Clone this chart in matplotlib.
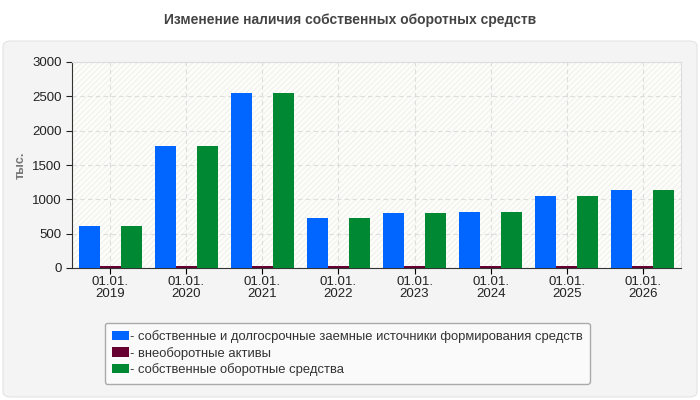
import matplotlib.pyplot as plt
import numpy as np
from matplotlib.patches import FancyBboxPatch, Rectangle

plt.rcParams['font.family'] = ['Liberation Sans', 'DejaVu Sans']

years = ["2019", "2020", "2021", "2022", "2023", "2024", "2025", "2026"]
labels = [f"01.01.\n{y}" for y in years]
own_and_longterm = [615, 1780, 2555, 735, 805, 820, 1053, 1140]
noncurrent_assets = [22, 22, 22, 22, 22, 22, 22, 22]
working_capital = [615, 1780, 2555, 735, 805, 820, 1053, 1140]

series_names = [
    "собственные и долгосрочные заемные источники формирования средств",
    "внеоборотные активы",
    "собственные оборотные средства",
]
colors = ["#0066ff", "#660033", "#008833"]

fig = plt.figure(figsize=(7, 4), dpi=100)
fig.patch.set_facecolor("white")

# rounded grey panel behind the chart
panel = FancyBboxPatch((3 / 700, 3 / 400), 694 / 700, 356 / 400,
                       boxstyle="round,pad=0,rounding_size=0.012",
                       transform=fig.transFigure, facecolor="#f4f4f4",
                       edgecolor="#e4e4e4", linewidth=0.8, zorder=-10)
fig.patches.append(panel)

fig.text(0.5, 1 - 20 / 400, "Изменение наличия собственных оборотных средств",
         ha="center", va="center", fontsize=10, fontweight="bold", color="#444444")

ax = fig.add_axes([72 / 700, 1 - 268 / 400, 609 / 700, 206 / 400])
ax.set_zorder(1)
ax.set_facecolor("#fdfdf9")
ax.add_patch(Rectangle((0, 0), 1, 1, transform=ax.transAxes, facecolor="none",
                       edgecolor="#f2f2f0", hatch="//////", linewidth=0, zorder=0))

x = np.arange(len(years))
w = 0.276
data = [own_and_longterm, noncurrent_assets, working_capital]
for i, (vals, c) in enumerate(zip(data, colors)):
    ax.bar(x + (i - 1) * w, vals, width=w, color=c, zorder=3, label="- " + series_names[i])

ax.set_xlim(-0.5, len(years) - 0.5)
ax.set_ylim(0, 3000)
ax.set_yticks(np.arange(0, 3001, 500))
ax.set_xticks(x)
ax.set_xticklabels(labels, fontsize=9.5, color="#222222", linespacing=1.0)
ax.tick_params(axis="y", labelsize=9.5, colors="#222222", length=4)
ax.tick_params(axis="x", length=4, pad=2)

ax.grid(True, color="#dddddd", linestyle=(0, (4, 3)), linewidth=0.8, zorder=1)
for s in ["top", "right"]:
    ax.spines[s].set_color("#dddddd")
for s in ["left", "bottom"]:
    ax.spines[s].set_color("#333333")

ax.set_ylabel("тыс.", fontsize=9, color="#777777", fontweight="bold")
ax.yaxis.set_label_coords((27 - 72) / 609, 0.5)

leg = fig.legend(loc="upper left", bbox_to_anchor=(98 / 700, 1 - 316 / 400),
                 fontsize=9.4, frameon=True, fancybox=True, handlelength=1.3,
                 handleheight=0.7, handletextpad=0.1, labelspacing=0.3,
                 borderpad=0.55, labelcolor="#333333")
leg.get_frame().set_facecolor("#fafafa")
leg.get_frame().set_edgecolor("#aaaaaa")
leg.get_frame().set_alpha(1)

fig.savefig("out.png", dpi=100, facecolor="white")
